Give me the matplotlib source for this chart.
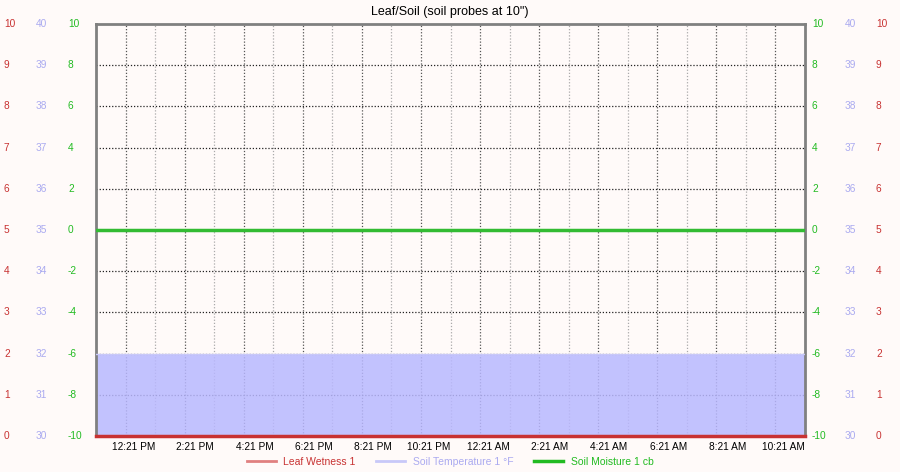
import matplotlib.pyplot as plt
from matplotlib.lines import Line2D
from matplotlib.transforms import blended_transform_factory

plt.rcParams['font.family'] = ['Liberation Sans', 'DejaVu Sans']

# data (hours from start of window)
hours = [0, 24]
leaf_wetness = [0, 0]
soil_temp = [32, 32]        # °F
soil_moisture = [0, 0]      # cb

tick_hours = [2, 4, 6, 8, 10, 12, 14, 16, 18, 20, 22, 24]
tick_labels = ["12:21 PM", "2:21 PM", "4:21 PM", "6:21 PM", "8:21 PM", "10:21 PM",
               "12:21 AM", "2:21 AM", "4:21 AM", "6:21 AM", "8:21 AM", "10:21 AM"]

leaf_ticks = [0, 1, 2, 3, 4, 5, 6, 7, 8, 9, 10]
temp_ticks = [30, 31, 32, 33, 34, 35, 36, 37, 38, 39, 40]
moist_ticks = [-10, -8, -6, -4, -2, 0, 2, 4, 6, 8, 10]

bg = '#fffaf9'
red = '#c83232'
purple = '#aaaaf0'
green = '#22bb22'

# everything is drawn on the soil-moisture scale (-10..10)
def leaf_to_y(v):
    return -10 + 2 * v

def temp_to_y(v):
    return -10 + 2 * (v - 30)

fig = plt.figure(figsize=(9, 4.72), dpi=100, facecolor=bg)
ax = fig.add_axes([96 / 900, 36 / 472, 709 / 900, 412 / 472])
ax.set_facecolor(bg)
ax.set_xlim(0, 24)
ax.set_ylim(-10, 10)

# grid
for h in range(1, 24):
    c = '#555555' if h % 2 else '#aaaaaa'
    ax.axvline(h, color=c, lw=0.9, ls=(0, (1, 1.5)), zorder=1)
for v in moist_ticks[1:-1]:
    ax.axhline(v, color='#222222', lw=0.9, ls=(0, (1, 1.5)), zorder=1)

ax.fill_between(hours, -10, [temp_to_y(t) for t in soil_temp],
                color='#b8b8ff', alpha=0.85, lw=0, zorder=2)
ax.plot(hours, [temp_to_y(t) for t in soil_temp], color='#c8c8f8', lw=1, zorder=3)
ax.plot(hours, [leaf_to_y(v) for v in leaf_wetness], color=red, lw=2.5, zorder=4,
        clip_on=False)
ax.plot(hours, soil_moisture, color='#33bb33', lw=2.5, zorder=4)

for side in ['left', 'top', 'right']:
    ax.spines[side].set_color('#808080')
    ax.spines[side].set_linewidth(2)
ax.spines['bottom'].set_visible(False)

ax.set_xticks(tick_hours)
ax.set_xticklabels(tick_labels, ha='right', fontsize=7.3)
ax.tick_params(axis='x', length=0, pad=4)
ax.set_yticks([])

# y scale labels on both sides
tr = blended_transform_factory(fig.transFigure, ax.transData)
for v in leaf_ticks:
    y = leaf_to_y(v)
    ax.text(4 / 900, y, str(v), transform=tr, color=red, fontsize=7.3,
            ha='left', va='center')
    ax.text(876 / 900, y, str(v), transform=tr, color=red, fontsize=7.3,
            ha='left', va='center')
for v in temp_ticks:
    y = temp_to_y(v)
    ax.text(36 / 900, y, str(v), transform=tr, color=purple, fontsize=7.3,
            ha='left', va='center')
    ax.text(845 / 900, y, str(v), transform=tr, color=purple, fontsize=7.3,
            ha='left', va='center')
for v in moist_ticks:
    ax.text(68 / 900, v, str(v), transform=tr, color=green, fontsize=7.3,
            ha='left', va='center')
    ax.text(812 / 900, v, str(v), transform=tr, color=green, fontsize=7.3,
            ha='left', va='center')

fig.text(450 / 900, 1 - 12 / 472, 'Leaf/Soil (soil probes at 10")', ha='center',
         va='center', fontsize=9)

handles = [Line2D([], [], color='#e08080', lw=2),
           Line2D([], [], color='#c8c8f8', lw=2),
           Line2D([], [], color='#22bb22', lw=2.5)]
labels = ['Leaf Wetness 1', 'Soil Temperature 1 °F', 'Soil Moisture 1 cb']
leg = fig.legend(handles, labels, loc='center', bbox_to_anchor=(450 / 900, 1 - 462 / 472),
                 ncol=3, frameon=False, fontsize=7.5, handlelength=2.8,
                 columnspacing=2.0, handletextpad=0.7)
for txt, c in zip(leg.get_texts(), [red, purple, green]):
    txt.set_color(c)

fig.savefig('out.png', dpi=100, facecolor=bg)
